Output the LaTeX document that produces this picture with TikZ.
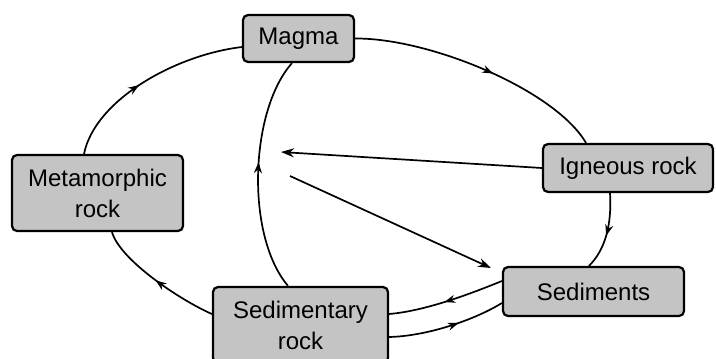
\documentclass[tikz,border=0pt]{standalone}
\usepackage{fontspec}
\setmainfont{Liberation Sans}
\usetikzlibrary{arrows.meta,decorations.markings,calc}
\definecolor{boxgray}{RGB}{196,196,196}
\tikzset{
  rockbox/.style={draw=black, fill=boxgray, line width=2.2pt, rounded corners=5pt,
    inner sep=0pt, align=center, font=\fontsize{24pt}{31pt}\selectfont},
  conn/.style={line width=1.7pt, draw=black},
  midarrow/.style={postaction={decorate}, decoration={markings,
    mark=at position #1 with {\arrow{Stealth[length=11pt,width=8pt]}}}},
  endarrow/.style={-{Stealth[length=13pt,width=9pt]}}
}
\begin{document}
\begin{tikzpicture}[x=1pt,y=-1pt]
\useasboundingbox (0,0) rectangle (716,359);
\clip (0,0) rectangle (716,359);
\fill[white] (0,0) rectangle (716,359);

\node[rockbox, minimum width=111pt, minimum height=47pt] (mag) at (298.5,38.5) {Magma};
\node[rockbox, minimum width=171pt, minimum height=76pt] (met) at (97.5,193) {Metamorphic\\rock};
\node[rockbox, minimum width=170pt, minimum height=48pt] (ign) at (628,168) {Igneous rock};
\node[rockbox, minimum width=181pt, minimum height=49pt] (sed) at (593.5,291.5) {Sediments};
\node[rockbox, minimum width=175pt, minimum height=76pt] (sr) at (300.5,325) {Sedimentary\\rock};

\coordinate (ctrA) at (281,152);
\coordinate (ctrB) at (290,176);
\coordinate (ctrC) at (491,268);

% Metamorphic -> Magma
\draw[conn, midarrow=0.45] ([xshift=-13.5pt]met.north) .. controls (95,100) and (175,55) .. ([yshift=-8.5pt]mag.west);
% Magma -> Igneous
\draw[conn, midarrow=0.55] (mag.east) .. controls (430,38) and (555,90) .. ([xshift=-42pt]ign.north);
% Igneous -> Sediments
\draw[conn, midarrow=0.55] ([xshift=-18pt]ign.south) .. controls (612,225) and (605,250) .. ([xshift=-4.5pt]sed.north);
% Sediments -> Sedimentary rock
\draw[conn, midarrow=0.52] ([yshift=10.5pt]sed.west) .. controls (470,294) and (425,311) .. ([yshift=11pt]sr.east);
% Sedimentary rock -> Sediments
\draw[conn, midarrow=0.6] ([yshift=-12pt]sr.east) .. controls (430,336) and (478,318) .. ([yshift=-11.5pt]sed.west);
% Sedimentary rock -> Magma
\draw[conn, midarrow=0.55] ([xshift=-12.5pt]sr.north) .. controls (245,235) and (250,110) .. ([xshift=-6.5pt]mag.south);
% Sedimentary rock -> Metamorphic
\draw[conn, midarrow=0.5] ([yshift=11pt]sr.west) .. controls (180,300) and (120,260) .. ([xshift=14.5pt]met.south);
% central arrows
\draw[conn, endarrow] (ign.west) -- (ctrA);
\draw[conn, endarrow] (ctrB) -- (ctrC);
\end{tikzpicture}
\end{document}
